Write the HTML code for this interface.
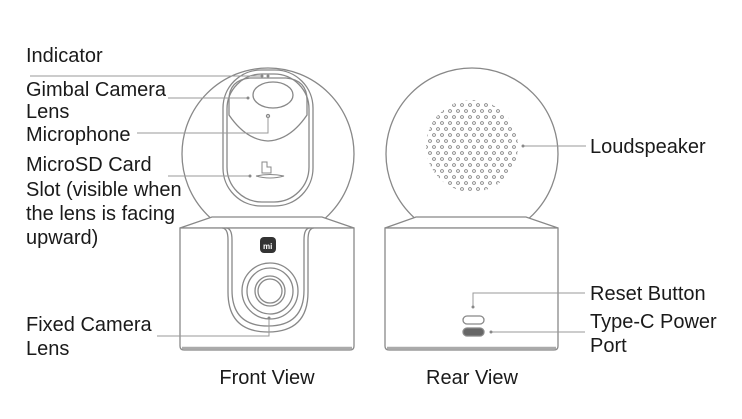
<!DOCTYPE html>
<html><head><style>
body{margin:0;background:#fff;width:742px;height:419px;overflow:hidden}
svg{position:absolute;left:0;top:0}
text{font-family:"Liberation Sans",sans-serif;font-size:20px;fill:#1a1a1a}
</style></head><body>
<svg width="742" height="419" viewBox="0 0 742 419">
<defs>
<pattern id="dots" x="0" y="0" width="8" height="12" patternUnits="userSpaceOnUse">
<circle cx="2" cy="3" r="1.4" fill="none" stroke="#777" stroke-width="0.8"/>
<circle cx="6" cy="9" r="1.4" fill="none" stroke="#777" stroke-width="0.8"/>
</pattern>
<clipPath id="spk"><circle cx="472" cy="146" r="46"/></clipPath>
</defs>
<g fill="none" stroke="#888" stroke-width="1.3">
<circle cx="268" cy="154" r="86"/>
<path d="M212 217 L322 217 L354 228 L180 228 Z" fill="#fff"/>
<path d="M180 228 H354 V346 Q354 350 350 350 H184 Q180 350 180 346 Z" fill="#fff"/>
<path d="M182 348 H352" stroke="#aaa" stroke-width="2.5"/>
<path d="M226 228 Q232 228 232 240 V290 Q232 326 268 326 Q304 326 304 290 V240 Q304 228 310 228"/>
<path d="M222 228 Q228 228 228 240 V292 Q228 332 268 332 Q308 332 308 292 V240 Q308 228 314 228"/>
<rect x="223" y="70" width="90" height="136" rx="38"/>
<rect x="227" y="74" width="82" height="128" rx="35"/>
<path d="M229 100 Q229 80 250 78 H286 Q307 80 307 100 V115 Q290 140 268 141 Q246 140 229 115 Z"/>
<ellipse cx="273" cy="95" rx="20" ry="13"/>
<circle cx="268" cy="116" r="1.5"/>
<path d="M262 162 h5 v5 h4 v6 h-9 z" stroke-width="1"/>
<path d="M256 176 q14 -3 28 0 q-14 4 -28 0" stroke-width="1"/>
<circle cx="270" cy="291" r="28"/>
<circle cx="270" cy="291" r="23"/>
<circle cx="270" cy="291" r="15"/>
<circle cx="270" cy="291" r="12"/>
<circle cx="472" cy="154" r="86"/>
<path d="M416 217 L526 217 L558 228 L385 228 Z" fill="#fff"/>
<path d="M385 228 H558 V346 Q558 350 554 350 H389 Q385 350 385 346 Z" fill="#fff"/>
<path d="M387 348 H556" stroke="#aaa" stroke-width="2.5"/>
<rect x="463" y="316" width="21" height="8" rx="4"/>
<rect x="463" y="328" width="21" height="8" rx="4" fill="#666"/>
<g stroke="#999" stroke-width="1">
<path d="M30 76 H262"/>
<path d="M168 98 H248"/>
<path d="M137 133 H268 V117"/>
<path d="M168 176 H250"/>
<path d="M157 336 H269 V318"/>
<path d="M523 146 H586"/>
<path d="M473 307 V293 H585"/>
<path d="M491 332 H585"/>
</g>
</g>
<rect x="0" y="0" width="742" height="419" fill="url(#dots)" clip-path="url(#spk)"/>
<rect x="260" y="237" width="16" height="16" rx="4" fill="#333"/>
<text x="263" y="249" style="font-size:8px;fill:#fff;font-weight:bold">mi</text>
<g fill="#888"><circle cx="262" cy="76" r="1.5"/><circle cx="268" cy="76" r="1.5"/><circle cx="248" cy="98" r="1.5"/><circle cx="250" cy="176" r="1.5"/><circle cx="269" cy="318" r="1.5"/><circle cx="523" cy="146" r="1.5"/><circle cx="473" cy="307" r="1.5"/><circle cx="491" cy="332" r="1.5"/></g>
<text x="26" y="62">Indicator</text>
<text x="26" y="96">Gimbal Camera</text>
<text x="26" y="118">Lens</text>
<text x="26" y="141">Microphone</text>
<text x="26" y="171">MicroSD Card</text>
<text x="26" y="196">Slot (visible when</text>
<text x="26" y="220">the lens is facing</text>
<text x="26" y="244">upward)</text>
<text x="26" y="331">Fixed Camera</text>
<text x="26" y="355">Lens</text>
<text x="590" y="153">Loudspeaker</text>
<text x="590" y="300">Reset Button</text>
<text x="590" y="328">Type-C Power</text>
<text x="590" y="352">Port</text>
<text x="267" y="384" text-anchor="middle">Front View</text>
<text x="472" y="384" text-anchor="middle">Rear View</text>
</svg>
</body></html>
